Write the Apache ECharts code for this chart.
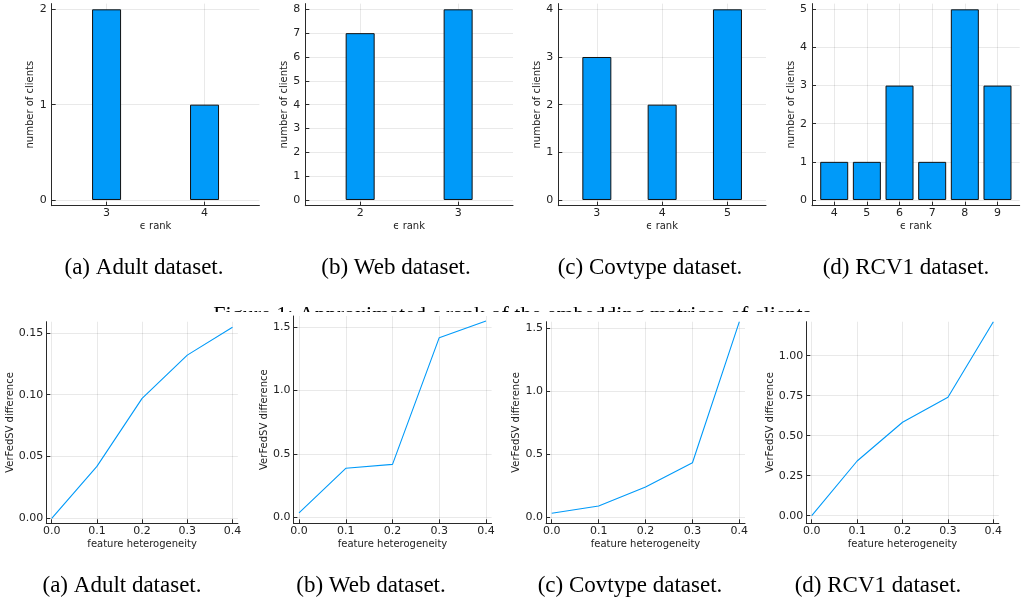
<!DOCTYPE html>
<html>
<head>
<meta charset="utf-8">
<script src="https://cdn.jsdelivr.net/npm/echarts@6/dist/echarts.min.js"></script>
<style>
  html, body { margin: 0; padding: 0; background: #fff; }
  #chart { width: 1021px; height: 601px; }
</style>
</head>
<body>
<div id="chart"></div>
<script>
// ---------- data ----------
const ranksAdult = [3, 4];
const clientsAdult = [2, 1];
const ranksWeb = [2, 3];
const clientsWeb = [7, 8];
const ranksCov = [3, 4, 5];
const clientsCov = [3, 2, 4];
const ranksRcv = [4, 5, 6, 7, 8, 9];
const clientsRcv = [1, 1, 3, 1, 5, 3];

const heterogeneity = [0.0, 0.1, 0.2, 0.3, 0.4];
const diffAdult = [0.0, 0.042, 0.097, 0.132, 0.1545];
const diffWeb = [0.036, 0.387, 0.418, 1.418, 1.549];
const diffCov = [0.032, 0.090, 0.240, 0.433, 1.552];
const diffRcv = [0.0, 0.342, 0.584, 0.740, 1.2125];

const yTicksAdultBar = [0, 1, 2];
const yTicksWebBar = [0, 1, 2, 3, 4, 5, 6, 7, 8];
const yTicksCovBar = [0, 1, 2, 3, 4];
const yTicksRcvBar = [0, 1, 2, 3, 4, 5];
const xTicksHet = [0.0, 0.1, 0.2, 0.3, 0.4];
const yTicksAdultLine = [0, 0.05, 0.10, 0.15];
const yTicksWebLine = [0, 0.5, 1.0, 1.5];
const yTicksCovLine = [0, 0.5, 1.0, 1.5];
const yTicksRcvLine = [0, 0.25, 0.5, 0.75, 1.0];

const captions = ['(a) Adult dataset.', '(b) Web dataset.', '(c) Covtype dataset.', '(d) RCV1 dataset.'];
const figureText = 'Figure 1: Approximated \u03f5 rank of the embedding matrices of clients.';

// ---------- styling ----------
const BLUE = '#009AF9';
const AXIS = '#2a2a2a';
const GRIDC = 'rgba(0,0,0,0.085)';
const FONT = '"DejaVu Sans", sans-serif';
const TICK_FS = 11;
const NAME_FS = 10;

function xAx(gi, min, max, ticks, fmt, name) {
  return {
    type: 'value', gridIndex: gi, min: min, max: max,
    name: name, nameLocation: 'middle', nameGap: 16,
    nameTextStyle: { fontFamily: FONT, fontSize: NAME_FS, color: '#222' },
    axisLine: { show: true, onZero: false, lineStyle: { color: AXIS, width: 1 } },
    axisTick: { show: true, inside: true, length: 4, customValues: ticks, lineStyle: { color: AXIS } },
    axisLabel: { show: true, customValues: ticks, margin: 2, formatter: fmt,
      fontFamily: FONT, fontSize: TICK_FS, color: '#222' },
    splitLine: { show: true, lineStyle: { color: GRIDC, width: 1 } }
  };
}
function yAx(gi, min, max, ticks, fmt, name, gap, margin) {
  return {
    type: 'value', gridIndex: gi, min: min, max: max,
    name: name, nameLocation: 'middle', nameGap: gap, nameRotate: 90,
    nameTextStyle: { fontFamily: FONT, fontSize: NAME_FS, color: '#222' },
    axisLine: { show: true, onZero: false, lineStyle: { color: AXIS, width: 1 } },
    axisTick: { show: true, inside: true, length: 4, customValues: ticks, lineStyle: { color: AXIS } },
    axisLabel: { show: true, customValues: ticks, margin: margin, formatter: fmt,
      fontFamily: FONT, fontSize: TICK_FS, color: '#222' },
    splitLine: { show: true, lineStyle: { color: GRIDC, width: 1 } }
  };
}
const f0 = v => String(Math.round(v));
const f1 = v => Number(v).toFixed(1);
const f2 = v => Number(v).toFixed(2);

const grids = [
  { left: 51.7, top: 3.6, width: 207.7, height: 202.1 },
  { left: 305.3, top: 3.6, width: 207.7, height: 202.1 },
  { left: 558.3, top: 3.6, width: 207.7, height: 202.1 },
  { left: 812.0, top: 3.6, width: 207.7, height: 202.1 },
  { left: 46.3, top: 321.7, width: 191.6, height: 201.6 },
  { left: 293.4, top: 316.0, width: 198.2, height: 207.3 },
  { left: 546.1, top: 321.7, width: 198.9, height: 201.6 },
  { left: 806.3, top: 321.7, width: 192.5, height: 201.6 }
];

const xAxes = [
  xAx(0, 2.44, 4.56, ranksAdult, f0, '\u03f5 rank'),
  xAx(1, 1.44, 3.56, ranksWeb, f0, '\u03f5 rank'),
  xAx(2, 2.41, 5.59, ranksCov, f0, '\u03f5 rank'),
  xAx(3, 3.32, 9.68, ranksRcv, f0, '\u03f5 rank'),
  xAx(4, -0.012, 0.412, xTicksHet, f1, 'feature heterogeneity'),
  xAx(5, -0.012, 0.412, xTicksHet, f1, 'feature heterogeneity'),
  xAx(6, -0.012, 0.412, xTicksHet, f1, 'feature heterogeneity'),
  xAx(7, -0.012, 0.412, xTicksHet, f1, 'feature heterogeneity')
];
const yAxes = [
  yAx(0, -0.06, 2.06, yTicksAdultBar, f0, 'number of clients', 13, 5),
  yAx(1, -0.24, 8.24, yTicksWebBar, f0, 'number of clients', 13, 5),
  yAx(2, -0.12, 4.12, yTicksCovBar, f0, 'number of clients', 13, 5),
  yAx(3, -0.15, 5.15, yTicksRcvBar, f0, 'number of clients', 13, 5),
  yAx(4, -0.004, 0.159, yTicksAdultLine, f2, 'VerFedSV difference', 29, 3),
  yAx(5, -0.047, 1.589, yTicksWebLine, f1, 'VerFedSV difference', 21, 3),
  yAx(6, -0.0476, 1.552, yTicksCovLine, f1, 'VerFedSV difference', 21, 3),
  yAx(7, -0.0475, 1.2125, yTicksRcvLine, f2, 'VerFedSV difference', 28, 3)
];

function barSeries(i, xs, ys, w) {
  return {
    type: 'bar', xAxisIndex: i, yAxisIndex: i, barWidth: w,
    data: xs.map((x, k) => [x, ys[k]]),
    itemStyle: { color: BLUE, borderColor: '#111', borderWidth: 1 },
    z: 5, silent: true
  };
}
function lineSeries(i, xs, ys) {
  return {
    type: 'line', xAxisIndex: i, yAxisIndex: i,
    data: xs.map((x, k) => [x, ys[k]]),
    showSymbol: false, symbol: 'none',
    lineStyle: { color: BLUE, width: 1.1 },
    z: 5, silent: true
  };
}

const series = [
  barSeries(0, ranksAdult, clientsAdult, 29),
  barSeries(1, ranksWeb, clientsWeb, 29),
  barSeries(2, ranksCov, clientsCov, 29),
  barSeries(3, ranksRcv, clientsRcv, 28),
  lineSeries(4, heterogeneity, diffAdult),
  lineSeries(5, heterogeneity, diffWeb),
  lineSeries(6, heterogeneity, diffCov),
  lineSeries(7, heterogeneity, diffRcv)
];

const CAP_FONT = '"Liberation Serif", "Times New Roman", serif';
const topCapX = [144, 396, 650, 906];
const botCapX = [122, 371, 630, 878];
const graphics = [];
captions.forEach((c, i) => {
  graphics.push({ type: 'text', x: topCapX[i], y: 268, z: 1,
    style: { text: c, font: '23px ' + CAP_FONT, fill: '#000', textAlign: 'center', textVerticalAlign: 'middle' } });
  graphics.push({ type: 'text', x: botCapX[i], y: 586, z: 1,
    style: { text: c, font: '23px ' + CAP_FONT, fill: '#000', textAlign: 'center', textVerticalAlign: 'middle' } });
});
graphics.push({ type: 'text', x: 515, y: 304, z: -2,
  style: { text: figureText, font: '22px ' + CAP_FONT, fill: '#000', textAlign: 'center', textVerticalAlign: 'top' } });
graphics.push({ type: 'rect', shape: { x: 0, y: 312, width: 1021, height: 22 }, z: -1,
  style: { fill: '#fff' } });

const chart = echarts.init(document.getElementById('chart'), null, { renderer: 'canvas' });
chart.setOption({
  animation: false,
  backgroundColor: '#fff',
  grid: grids,
  xAxis: xAxes,
  yAxis: yAxes,
  series: series,
  graphic: graphics
});
</script>
</body>
</html>
